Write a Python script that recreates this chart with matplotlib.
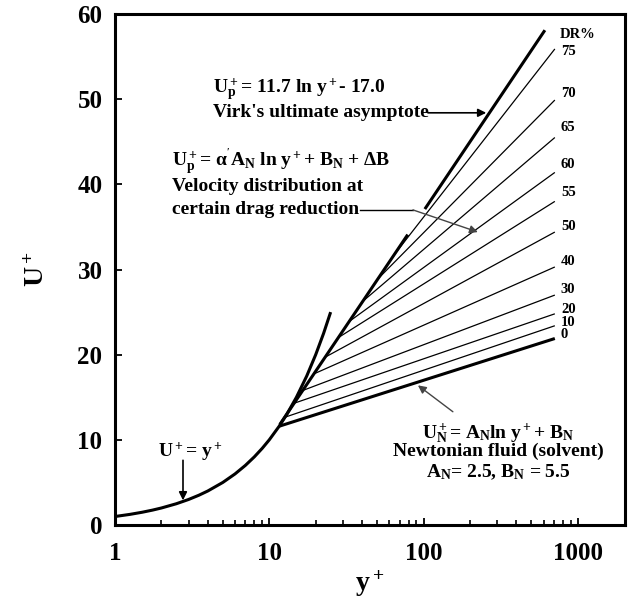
import matplotlib
matplotlib.use('Agg')
import matplotlib.pyplot as plt
import numpy as np

plt.rcParams['font.family'] = ['Liberation Serif', 'DejaVu Serif']
plt.rcParams['font.weight'] = 'bold'
plt.rcParams['axes.labelweight'] = 'bold'
plt.rcParams['mathtext.fontset'] = 'custom'
plt.rcParams['mathtext.rm'] = 'Liberation Serif:bold'
plt.rcParams['mathtext.it'] = 'Liberation Serif:bold'
plt.rcParams['mathtext.bf'] = 'Liberation Serif:bold'

# viscous sublayer U+ = y+
sublayer_y = [1, 1.25, 1.5, 1.75, 2, 2.5, 3, 3.5, 4, 5, 6, 7, 8, 9, 10,
              11.6, 13, 15, 17.5, 20, 22.5, 25]
sublayer_u = sublayer_y

# Virk's ultimate asymptote, two thick pieces
virk_lower_y = [11.7, 79]
virk_lower_u = [11.8, 34.1]
virk_upper_y = [102, 612]
virk_upper_u = [37.1, 58.1]

# log-law lines for each drag reduction level (0 = Newtonian)
dr_levels = [0, 10, 20, 30, 40, 50, 55, 60, 65, 70, 75]
dr_start_y = [11.6, 12.6, 14.5, 16.5, 19.5, 23, 28, 33, 40, 50, 65]
dr_start_u = [11.6, 12.65, 14.3, 15.8, 17.75, 19.7, 22.0, 23.9, 26.2, 28.8, 31.8]
dr_end_y = 710
dr_end_u = [21.9, 23.4, 24.8, 27.0, 30.3, 34.4, 38.0, 41.4, 45.5, 49.9, 55.9]
dr_label_u = [22.4, 23.8, 25.3, 27.6, 31.0, 35.0, 39.1, 42.3, 46.7, 50.7, 55.6]

x_ticks = [1, 10, 100, 1000]
y_ticks = [0, 10, 20, 30, 40, 50, 60]

fig = plt.figure(figsize=(6.37, 5.99), dpi=100)
ax = fig.add_axes([0.1805, 0.1235, 0.8005, 0.8531])

ax.plot(sublayer_y, sublayer_u, color='black', lw=2.2, solid_capstyle='butt')
ax.plot(virk_lower_y, virk_lower_u, color='black', lw=2.2, solid_capstyle='butt')
ax.plot(virk_upper_y, virk_upper_u, color='black', lw=2.2, solid_capstyle='butt')

for i, dr in enumerate(dr_levels):
    lw = 2.2 if dr == 0 else 0.9
    ax.plot([dr_start_y[i], dr_end_y], [dr_start_u[i], dr_end_u[i]],
            color='black', lw=lw, solid_capstyle='butt')
    ax.text(777, dr_label_u[i], str(dr), fontsize=10.5, fontweight='bold',
            ha='left', va='center', linespacing=0.9)
ax.text(760, 57.6, 'DR%', fontsize=10.5, fontweight='bold', ha='left', va='center')

ax.set_xscale('log')
ax.set_xlim(1, 2020)
ax.set_ylim(0, 60)
ax.set_xticks(x_ticks)
ax.set_xticklabels([str(t) for t in x_ticks])
ax.set_xticks([m * 10 ** k for k in range(3) for m in range(2, 10)], minor=True)
ax.set_yticks(y_ticks)
ax.set_yticklabels([str(t) for t in y_ticks])
ax.tick_params(axis='both', which='major', direction='in', labelsize=18,
               width=1.3, length=5)
ax.tick_params(axis='x', which='major', pad=12)
ax.tick_params(axis='y', which='major', pad=9)
ax.tick_params(axis='x', which='minor', direction='in', width=1.2, length=3.5)
ax.tick_params(axis='y', which='minor', left=False)
for lab in ax.get_xticklabels() + ax.get_yticklabels():
    lab.set_fontweight('bold')
for side in ax.spines.values():
    side.set_linewidth(2.2)

ax.set_ylabel('U$^+$', fontsize=20, fontweight='bold', labelpad=20)
ax.set_xlabel('y$^+$', fontsize=20, fontweight='bold', labelpad=3)

head = dict(arrowstyle='-|>', color='black', lw=1.2, mutation_scale=12,
            shrinkA=0, shrinkB=0)
gray_head = dict(arrowstyle='-|>', color='#444444', lw=1.0, mutation_scale=12,
                 shrinkA=0, shrinkB=0)

# Virk asymptote label
ax.text(4.32, 51.1, 'U$_p^+$= 11.7 ln y$^+$- 17.0', fontsize=14,
        ha='left', va='center')
ax.text(4.32, 48.4, "Virk's ultimate asymptote", fontsize=14,
        ha='left', va='center')
ax.annotate('', xy=(255, 48.4), xytext=(106.8, 48.4), arrowprops=head)

# drag-reduced profile label
ax.text(2.34, 42.6, "U$_p^+$= $\\alpha^{'}$A$_N$ ln y$^+$+ B$_N$ + $\\Delta$B",
        fontsize=14, ha='left', va='center')
ax.text(2.34, 39.7, 'Velocity distribution at', fontsize=14,
        ha='left', va='center')
ax.text(2.34, 37.0, 'certain drag reduction', fontsize=14,
        ha='left', va='center')
ax.plot([38.5, 85.4], [37.0, 37.0], color='black', lw=1.0)
ax.annotate('', xy=(225, 34.4), xytext=(85.4, 37.0), arrowprops=gray_head)

# Newtonian label
ax.text(303.5, 10.8, 'U$_N^+$= A$_N$ln y$^+$+ B$_N$', fontsize=14,
        ha='center', va='center')
ax.text(303.5, 8.6, 'Newtonian fluid (solvent)', fontsize=14,
        ha='center', va='center')
ax.text(303.5, 6.2, 'A$_N$= 2.5, B$_N$ = 5.5', fontsize=14,
        ha='center', va='center')
ax.annotate('', xy=(92, 16.4), xytext=(155, 13.3), arrowprops=gray_head)

# sublayer label
ax.text(3.06, 8.6, 'U$^+$= y$^+$', fontsize=14, ha='center', va='center')
ax.annotate('', xy=(2.76, 2.9), xytext=(2.76, 7.6), arrowprops=head)

fig.savefig('out.png', dpi=100)
